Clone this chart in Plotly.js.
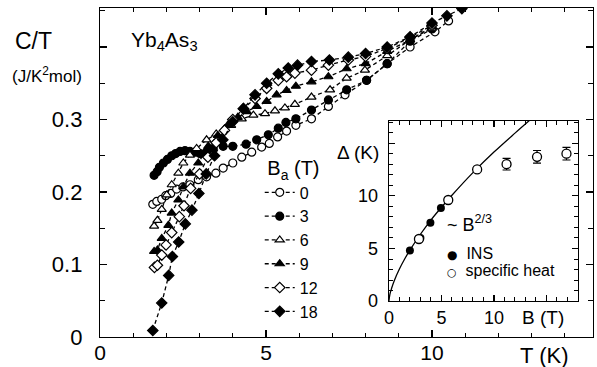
<!DOCTYPE html>
<html>
<head>
<meta charset="utf-8">
<script src="https://cdn.plot.ly/plotly-3.0.1.min.js"></script>
<style>html,body{margin:0;padding:0;background:#fff;}#chart{width:597px;height:367px;}</style>
</head>
<body>
<div id="chart"></div>
<script>
// Main plot: C/T vs T for applied fields B_a (T)
const fieldLabels = ['0', '3', '6', '9', '12', '18'];

const T0 = [1.59, 1.71, 1.86, 1.98, 2.13, 2.31, 2.5, 2.71, 2.96, 3.21, 3.49, 3.71, 4.0, 4.27, 4.57, 4.87, 5.1, 5.35, 5.62, 5.9, 6.37, 6.88, 7.38, 8.03, 8.65, 9.34, 10.09, 10.5];
const C0 = [0.183, 0.187, 0.19, 0.195, 0.198, 0.204, 0.207, 0.21, 0.217, 0.221, 0.226, 0.233, 0.24, 0.248, 0.255, 0.262, 0.267, 0.276, 0.284, 0.292, 0.301, 0.318, 0.334, 0.354, 0.377, 0.40, 0.421, 0.436];

const T3 = [1.63, 1.72, 1.79, 1.91, 2.03, 2.16, 2.28, 2.41, 2.56, 2.71, 2.86, 3.01, 3.2, 3.41, 3.71, 4.0, 4.4, 4.72, 5.07, 5.37, 5.6, 5.9, 6.37, 6.88, 7.43, 8.03, 8.65, 9.34, 10.0];
const C3 = [0.223, 0.228, 0.234, 0.24, 0.245, 0.25, 0.253, 0.256, 0.257, 0.256, 0.255, 0.253, 0.255, 0.26, 0.263, 0.263, 0.266, 0.272, 0.279, 0.288, 0.296, 0.301, 0.313, 0.327, 0.341, 0.354, 0.377, 0.408, 0.425];

const T6 = [1.63, 1.73, 1.86, 2.01, 2.16, 2.36, 2.51, 2.71, 2.91, 3.21, 3.5, 3.75, 3.95, 4.27, 4.62, 4.97, 5.27, 5.57, 5.87, 6.37, 6.93, 7.43, 7.98, 8.65, 9.34, 10.0];
const C6 = [0.153, 0.161, 0.176, 0.196, 0.21, 0.226, 0.24, 0.251, 0.26, 0.272, 0.28, 0.287, 0.292, 0.301, 0.306, 0.308, 0.312, 0.316, 0.321, 0.331, 0.341, 0.357, 0.368, 0.388, 0.41, 0.426];

const T9 = [1.63, 1.73, 1.86, 2.06, 2.16, 2.36, 2.51, 2.71, 2.96, 3.26, 3.55, 3.85, 4.15, 4.42, 4.72, 5.02, 5.32, 5.62, 5.9, 6.37, 6.88, 7.43, 8.0, 8.65, 9.34, 10.0];
const C9 = [0.118, 0.12, 0.136, 0.154, 0.171, 0.189, 0.207, 0.226, 0.24, 0.263, 0.278, 0.292, 0.303, 0.311, 0.318, 0.325, 0.334, 0.34, 0.346, 0.352, 0.359, 0.37, 0.377, 0.394, 0.41, 0.428];

const T12 = [1.64, 1.73, 1.86, 1.99, 2.16, 2.39, 2.53, 2.73, 3.0, 3.25, 3.5, 3.75, 4.0, 4.32, 4.67, 5.02, 5.37, 5.62, 5.87, 6.37, 6.88, 7.48, 8.0, 8.65, 9.34, 10.0];
const C12 = [0.096, 0.099, 0.113, 0.127, 0.144, 0.166, 0.181, 0.205, 0.225, 0.248, 0.268, 0.285, 0.30, 0.315, 0.329, 0.343, 0.354, 0.359, 0.364, 0.368, 0.375, 0.382, 0.387, 0.398, 0.413, 0.43];

const T18 = [1.59, 1.86, 2.07, 2.18, 2.37, 2.57, 2.77, 2.98, 3.2, 3.45, 3.7, 4.0, 4.32, 4.67, 5.02, 5.37, 5.67, 5.95, 6.37, 6.91, 7.48, 8.0, 8.65, 9.34, 10.0, 10.45, 10.9];
const C18 = [0.009, 0.047, 0.085, 0.111, 0.131, 0.156, 0.175, 0.198, 0.225, 0.25, 0.272, 0.297, 0.315, 0.334, 0.35, 0.363, 0.371, 0.375, 0.38, 0.382, 0.386, 0.391, 0.40, 0.414, 0.433, 0.443, 0.453];

// Inset: gap Delta vs B
const insB = [2.0, 3.0, 3.95, 4.95];
const insDelta = [4.8, 6.0, 7.45, 8.83];
const shB = [2.86, 5.65, 8.4, 11.2, 14.1, 16.9];
const shDelta = [5.9, 9.6, 12.5, 13.0, 13.7, 14.0];
const shErr = [0, 0, 0, 0.55, 0.6, 0.6];
const fitB = [0, 0.1, 0.25, 0.5, 1, 1.5, 2, 3, 4, 5, 6, 8, 10, 12, 13.6];
const fitDelta = [0, 0.66, 1.2, 1.92, 3.05, 4.0, 4.84, 6.35, 7.7, 8.9, 10.05, 12.2, 14.15, 15.95, 17.35];

const FONT = 'Liberation Sans, Arial, Helvetica, sans-serif';
const series = [
  {x: T0, y: C0, sym: 'circle', fill: 'white', size: 8},
  {x: T3, y: C3, sym: 'circle', fill: 'black', size: 8},
  {x: T6, y: C6, sym: 'triangle-up', fill: 'white', size: 8},
  {x: T9, y: C9, sym: 'triangle-up', fill: 'black', size: 8},
  {x: T12, y: C12, sym: 'diamond', fill: 'white', size: 8},
  {x: T18, y: C18, sym: 'diamond', fill: 'black', size: 8}
];

const traces = series.map((s, i) => ({
  type: 'scatter', mode: 'lines+markers',
  x: s.x, y: s.y, name: fieldLabels[i], xaxis: 'x', yaxis: 'y',
  line: {color: 'black', width: 1.3, dash: '4px,3px'},
  marker: {symbol: s.sym, size: s.size, color: s.fill, line: {color: 'black', width: 1.2}},
  showlegend: true
}));

traces.push({
  type: 'scatter', mode: 'lines', x: fitB, y: fitDelta, xaxis: 'x2', yaxis: 'y2',
  line: {color: 'black', width: 1.3, shape: 'spline'}, showlegend: false, cliponaxis: true
});
traces.push({
  type: 'scatter', mode: 'markers', x: insB, y: insDelta, xaxis: 'x2', yaxis: 'y2',
  marker: {symbol: 'circle', size: 8, color: 'black'}, showlegend: false
});
traces.push({
  type: 'scatter', mode: 'markers', x: shB, y: shDelta, xaxis: 'x2', yaxis: 'y2',
  error_y: {type: 'data', array: shErr, visible: true, color: 'black', thickness: 1.2, width: 4},
  marker: {symbol: 'circle', size: 9, color: 'white', line: {color: 'black', width: 1.3}}, showlegend: false
});

const axBase = {
  showline: true, linecolor: 'black', linewidth: 1.2, mirror: 'allticks',
  ticks: 'inside', ticklen: 7, tickwidth: 1.2, tickcolor: 'black',
  showgrid: false, zeroline: false, tickmode: 'array', automargin: false
};

const layout = {
  width: 597, height: 367,
  margin: {l: 100, r: 4, t: 8, b: 30, autoexpand: false},
  paper_bgcolor: 'white', plot_bgcolor: 'white',
  font: {family: FONT, color: 'black'},
  showlegend: true,
  legend: {
    x: 0.324, y: 0.57, xanchor: 'left', yanchor: 'top',
    bgcolor: 'rgba(0,0,0,0)', borderwidth: 0,
    font: {family: FONT, size: 16, color: 'black'},
    title: {text: '\u00a0B<sub>a</sub> (T)', font: {family: FONT, size: 20, color: 'black'}},
    itemwidth: 30, tracegroupgap: 0, traceorder: 'normal'
  },
  xaxis: Object.assign({}, axBase, {
    domain: [0, 1], range: [0, 14.85], anchor: 'y',
    tickvals: [0, 5, 10], ticktext: ['0', '5', '10'],
    tickfont: {family: FONT, size: 21}, ticklabelstandoff: -3,
    minor: {dtick: 1, tick0: 0, ticklen: 4, tickwidth: 1, tickcolor: 'black', ticks: 'inside'}
  }),
  yaxis: Object.assign({}, axBase, {
    domain: [0, 1], range: [0, 0.4538], anchor: 'x',
    tickvals: [0, 0.1, 0.2, 0.3, 0.4], ticktext: ['0', '0.1', '0.2', '0.3', ''],
    tickfont: {family: FONT, size: 22}, ticklabelstandoff: 12,
    minor: {dtick: 0.05, tick0: 0, ticklen: 5, tickwidth: 1, tickcolor: 'black', ticks: 'inside'}
  }),
  xaxis2: Object.assign({}, axBase, {
    domain: [0.586, 0.9696], range: [0, 18], anchor: 'y2',
    tickvals: [0, 5, 10, 15], ticktext: ['0', '5', '10', ''],
    tickfont: {family: FONT, size: 18}, ticklen: 6, ticklabelstandoff: 0,
    minor: {dtick: 1, tick0: 0, ticklen: 4, tickwidth: 1, tickcolor: 'black', ticks: 'inside'}
  }),
  yaxis2: Object.assign({}, axBase, {
    domain: [0.109, 0.6565], range: [0, 17.1], anchor: 'x2',
    tickvals: [0, 5, 10, 15], ticktext: ['0', '5', '10', ''],
    tickfont: {family: FONT, size: 18}, ticklen: 6, ticklabelstandoff: 6,
    minor: {dtick: 1, tick0: 0, ticklen: 4, tickwidth: 1, tickcolor: 'black', ticks: 'inside'}
  }),
  annotations: [
    {text: 'C/T', xref: 'paper', yref: 'paper', x: -0.135, y: 0.9, xanchor: 'center', yanchor: 'middle', showarrow: false, font: {family: FONT, size: 23}},
    {text: '(J/K<sup>2</sup>mol)', xref: 'paper', yref: 'paper', x: -0.107, y: 0.795, xanchor: 'center', yanchor: 'middle', showarrow: false, font: {family: FONT, size: 17}},
    {text: 'Yb<sub>4</sub>As<sub>3</sub>', xref: 'paper', yref: 'paper', x: 0.058, y: 0.9, xanchor: 'left', yanchor: 'middle', showarrow: false, font: {family: FONT, size: 21}},
    {text: 'T (K)', xref: 'paper', yref: 'paper', x: 0.9, y: -0.055, xanchor: 'center', yanchor: 'middle', showarrow: false, font: {family: FONT, size: 22}},
    {text: 'Δ (K)', xref: 'paper', yref: 'paper', x: 0.57, y: 0.56, xanchor: 'right', yanchor: 'middle', showarrow: false, font: {family: FONT, size: 19}},
    {text: 'B (T)', xref: 'paper', yref: 'paper', x: 0.898, y: 0.06, xanchor: 'center', yanchor: 'middle', showarrow: false, font: {family: FONT, size: 19}},
    {text: '~ B<sup>2/3</sup>', xref: 'paper', yref: 'paper', x: 0.70, y: 0.345, xanchor: 'left', yanchor: 'middle', showarrow: false, font: {family: FONT, size: 18}},
    {text: '<span style="font-family:DejaVu Sans;font-size:12px">●</span>  INS', xref: 'paper', yref: 'paper', x: 0.7, y: 0.255, xanchor: 'left', yanchor: 'middle', showarrow: false, font: {family: FONT, size: 16}},
    {text: '<span style="font-family:DejaVu Sans;font-size:11px">○</span>  specific heat', xref: 'paper', yref: 'paper', x: 0.7, y: 0.203, xanchor: 'left', yanchor: 'middle', showarrow: false, font: {family: FONT, size: 16}}
  ]
};

Plotly.newPlot('chart', traces, layout, {displayModeBar: false, staticPlot: true});
</script>
</body>
</html>
